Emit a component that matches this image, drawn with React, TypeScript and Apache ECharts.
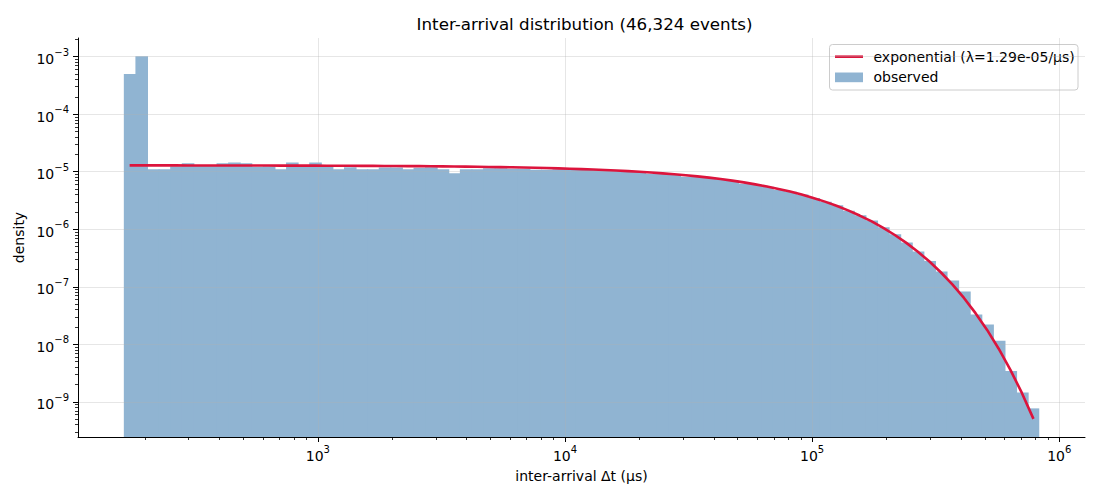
import React, { useEffect, useRef } from "react";
import * as echarts from "echarts";

const TITLE = "Inter-arrival distribution (46,324 events)";
const X_NAME = "inter-arrival Δt (μs)";
const Y_NAME = "density";
const FIT_NAME = "exponential (λ=1.29e-05/μs)";
const OBS_NAME = "observed";

// histogram binning (log-spaced bins, μs)
const BIN_EDGE_MIN_US = 164;
const BIN_EDGE_MAX_US = 830000;
const BIN_COUNT = 79;

// observed density per bin
const OBSERVED_DENSITY = [
  5.0e-4, 1.02e-3, 1.1e-5, 1.1e-5, 1.25e-5, 1.4e-5, 1.28e-5, 1.28e-5, 1.4e-5, 1.45e-5,
  1.4e-5, 1.22e-5, 1.25e-5, 1.1e-5, 1.45e-5, 1.3e-5, 1.45e-5, 1.22e-5, 1.1e-5, 1.2e-5,
  1.1e-5, 1.1e-5, 1.18e-5, 1.18e-5, 1.1e-5, 1.17e-5, 1.2e-5, 1.1e-5, 9.4e-6, 1.1e-5,
  1.1e-5, 1.15e-5, 1.15e-5, 1.13e-5, 1.13e-5, 1.08e-5, 1.08e-5, 1.1e-5, 1.1e-5, 1.1e-5,
  1.08e-5, 1.07e-5, 1.04e-5, 1.02e-5, 9.9e-6, 9.2e-6, 9.3e-6, 9.0e-6, 8.2e-6, 8.3e-6,
  7.9e-6, 7.4e-6, 7.0e-6, 6.2e-6, 6.0e-6, 5.5e-6, 4.8e-6, 4.5e-6, 4.0e-6, 3.5e-6,
  3.0e-6, 2.6e-6, 2.1e-6, 1.75e-6, 1.42e-6, 1.08e-6, 8.2e-7, 5.9e-7, 4.1e-7, 2.8e-7,
  1.85e-7, 1.29e-7, 8.3e-8, 3.3e-8, 2.2e-8, 1.15e-8, 3.45e-9, 1.45e-9, 7.7e-10,
];

// fitted exponential density at each bin centre
const FIT_DENSITY = [
  1.287e-5, 1.287e-5, 1.286e-5, 1.286e-5, 1.286e-5, 1.285e-5, 1.284e-5, 1.284e-5, 1.283e-5, 1.282e-5,
  1.282e-5, 1.281e-5, 1.28e-5, 1.278e-5, 1.277e-5, 1.276e-5, 1.274e-5, 1.272e-5, 1.27e-5, 1.268e-5,
  1.265e-5, 1.262e-5, 1.259e-5, 1.256e-5, 1.252e-5, 1.248e-5, 1.243e-5, 1.238e-5, 1.232e-5, 1.226e-5,
  1.219e-5, 1.211e-5, 1.202e-5, 1.192e-5, 1.182e-5, 1.17e-5, 1.157e-5, 1.143e-5, 1.127e-5, 1.11e-5,
  1.091e-5, 1.07e-5, 1.048e-5, 1.023e-5, 9.97e-6, 9.68e-6, 9.37e-6, 9.03e-6, 8.67e-6, 8.29e-6,
  7.88e-6, 7.45e-6, 6.99e-6, 6.52e-6, 6.03e-6, 5.53e-6, 5.02e-6, 4.51e-6, 4.0e-6, 3.5e-6,
  3.02e-6, 2.56e-6, 2.13e-6, 1.73e-6, 1.38e-6, 1.067e-6, 8.02e-7, 5.85e-7, 4.1e-7, 2.77e-7,
  1.79e-7, 1.1e-7, 6.39e-8, 3.48e-8, 1.78e-8, 8.38e-9, 3.63e-9, 1.43e-9, 5.06e-10,
];

const X_TICK_EXPONENTS = [3, 4, 5, 6];
const Y_TICK_EXPONENTS = [-9, -8, -7, -6, -5, -4, -3];

// axis ranges (log10 space)
const X_LOG_MIN = 2.0294;
const X_LOG_MAX = 6.1042;
const Y_LOG_MIN = -9.611;
const Y_LOG_MAX = -2.676;

const FONT = "DejaVu Sans";
const BAR_COLOR = "#90b4d2";
const LINE_COLOR = "#dc143c";
const GRID_COLOR = "rgba(176,176,176,0.32)";

function minorTicks(lo: number, hi: number): number[] {
  const out: number[] = [];
  for (let n = Math.floor(lo) - 1; n <= Math.ceil(hi); n++) {
    for (let k = 2; k <= 9; k++) {
      const v = n + Math.log10(k);
      if (v >= lo && v <= hi) out.push(v);
    }
  }
  return out;
}

function supLabel(v: number) {
  const n = Math.round(v);
  const s = n < 0 ? "\u2212" + Math.abs(n) : String(n);
  return `{b|10}{s|${s}}`;
}

const richSup = {
  b: { fontFamily: FONT, fontSize: 14, color: "#000", verticalAlign: "bottom", lineHeight: 19 },
  s: { fontFamily: FONT, fontSize: 10, color: "#000", verticalAlign: "top", lineHeight: 11 },
};

export default function App() {
  const ref = useRef<HTMLDivElement>(null);

  useEffect(() => {
    if (!ref.current) return;
    const chart = echarts.init(ref.current, undefined, { renderer: "svg" });

    const lMin = Math.log10(BIN_EDGE_MIN_US);
    const lMax = Math.log10(BIN_EDGE_MAX_US);
    const step = (lMax - lMin) / BIN_COUNT;
    const barData = OBSERVED_DENSITY.map((d, i) => [
      lMin + i * step,
      lMin + (i + 1) * step,
      Math.log10(d),
      i,
    ]);
    const lineData = FIT_DENSITY.map((d, i) => [lMin + (i + 0.5) * step, Math.log10(d)]);

    const gridL = 78, gridR = 15, gridT = 38, gridB = 63;

    const option: any = {
      animation: false,
      textStyle: { fontFamily: FONT },
      title: {
        text: TITLE,
        left: 579.5,
        top: 10,
        textAlign: "center",
        textStyle: { fontFamily: FONT, fontSize: 16.7, fontWeight: "normal", color: "#000" },
      },
      grid: { left: gridL, right: gridR, top: gridT, bottom: gridB, containLabel: false },
      xAxis: [
        {
          type: "value",
          min: X_LOG_MIN,
          max: X_LOG_MAX,
          position: "bottom",
          z: 3,
          axisLine: { show: true, onZero: false, lineStyle: { color: "#000", width: 1 } },
          axisTick: { show: true, customValues: X_TICK_EXPONENTS, length: 5, lineStyle: { color: "#000", width: 1 } },
          axisLabel: { customValues: X_TICK_EXPONENTS, margin: 7, formatter: supLabel, rich: richSup },
          splitLine: { show: true, lineStyle: { color: GRID_COLOR, width: 1 } },
          name: X_NAME,
          nameLocation: "middle",
          nameGap: 32,
          nameTextStyle: { fontFamily: FONT, fontSize: 14, color: "#000" },
        },
        {
          type: "value",
          min: X_LOG_MIN,
          max: X_LOG_MAX,
          position: "bottom",
          z: 3,
          axisLine: { show: false },
          axisTick: { show: true, customValues: minorTicks(X_LOG_MIN, X_LOG_MAX), length: 3, lineStyle: { color: "#000", width: 0.8 } },
          axisLabel: { show: false },
          splitLine: { show: false },
        },
      ],
      yAxis: [
        {
          type: "value",
          min: Y_LOG_MIN,
          max: Y_LOG_MAX,
          position: "left",
          z: 3,
          axisLine: { show: true, onZero: false, lineStyle: { color: "#000", width: 1 } },
          axisTick: { show: true, customValues: Y_TICK_EXPONENTS, length: 5, lineStyle: { color: "#000", width: 1 } },
          axisLabel: { customValues: Y_TICK_EXPONENTS, margin: 9, formatter: supLabel, rich: richSup },
          splitLine: { show: true, lineStyle: { color: GRID_COLOR, width: 1 } },
          name: Y_NAME,
          nameLocation: "middle",
          nameGap: 49,
          nameTextStyle: { fontFamily: FONT, fontSize: 14, color: "#000" },
        },
        {
          type: "value",
          min: Y_LOG_MIN,
          max: Y_LOG_MAX,
          position: "left",
          z: 3,
          axisLine: { show: false },
          axisTick: { show: true, customValues: minorTicks(Y_LOG_MIN, Y_LOG_MAX), length: 3, lineStyle: { color: "#000", width: 0.8 } },
          axisLabel: { show: false },
          splitLine: { show: false },
        },
      ],
      series: [
        {
          name: OBS_NAME,
          type: "custom",
          z: 1,
          xAxisIndex: 0,
          yAxisIndex: 0,
          encode: { x: [0, 1], y: 2 },
          data: barData,
          renderItem: (params: any, api: any) => {
            const p0 = api.coord([api.value(0), api.value(2)]);
            const p1 = api.coord([api.value(1), Y_LOG_MIN]);
            const isLast = api.value(3) === BIN_COUNT - 1;
            const overlap = isLast ? 0 : 1;
            return {
              type: "rect",
              shape: { x: p0[0], y: p0[1], width: p1[0] - p0[0] + overlap, height: p1[1] - p0[1] },
              style: { fill: BAR_COLOR, stroke: null, lineWidth: 0 },
            };
          },
        },
        {
          name: FIT_NAME,
          type: "line",
          z: 5,
          xAxisIndex: 0,
          yAxisIndex: 0,
          data: lineData,
          symbol: "none",
          showSymbol: false,
          lineStyle: { color: LINE_COLOR, width: 2.6 },
          itemStyle: { color: LINE_COLOR },
        },
      ],
      graphic: [
        {
          type: "group",
          z: 100,
          children: [
            {
              type: "rect",
              shape: { x: 829.5, y: 44.5, width: 248.5, height: 45.5, r: 3 },
              style: { fill: "rgba(255,255,255,0.8)", stroke: "#cccccc", lineWidth: 1 },
            },
            {
              type: "line",
              shape: { x1: 835, y1: 56.7, x2: 863, y2: 56.7 },
              style: { stroke: LINE_COLOR, lineWidth: 2.6 },
            },
            {
              type: "text",
              x: 873.5,
              y: 56.7,
              style: { text: FIT_NAME, fontFamily: FONT, fontSize: 14, fill: "#000", verticalAlign: "middle", align: "left" },
            },
            {
              type: "rect",
              shape: { x: 835, y: 72.5, width: 28, height: 9.7 },
              style: { fill: BAR_COLOR },
            },
            {
              type: "text",
              x: 873.5,
              y: 77.3,
              style: { text: OBS_NAME, fontFamily: FONT, fontSize: 14, fill: "#000", verticalAlign: "middle", align: "left" },
            },
          ],
        },
      ],
    };

    chart.setOption(option);
    return () => chart.dispose();
  }, []);

  return (
    <div
      ref={ref}
      style={{ position: "absolute", left: 0, top: 0, width: 1100, height: 500, background: "#fff" }}
    />
  );
}
